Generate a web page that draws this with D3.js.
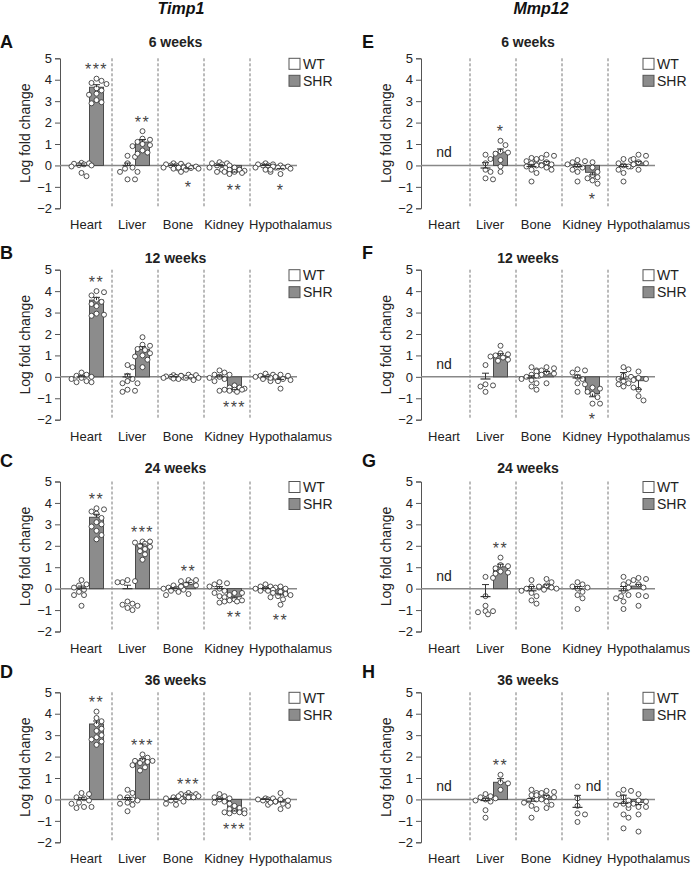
<!DOCTYPE html>
<html><head><meta charset="utf-8">
<script src="https://cdn.jsdelivr.net/npm/d3@7"></script>
<style>body{margin:0;background:#fff}svg{display:block;font-family:"Liberation Sans",Arial,Helvetica,sans-serif}</style>
</head><body><svg id="c" width="691" height="869"></svg>
<script>
const categories = ["Heart","Liver","Bone","Kidney","Hypothalamus"];
const yTicks = [-2,-1,0,1,2,3,4,5];
const groups = ["WT","SHR"];
const genes = ["Timp1","Mmp12"];
const ages = ["6 weeks","12 weeks","24 weeks","36 weeks"];

// Panel A (Timp1, 6 weeks)
const A_wt = [[0.1,0.05,0.0,0.12,-0.05,0.08,0.02,-0.35,-0.5],[0.45,0.4,0.1,-0.1,-0.15,-0.3,-0.3,-0.65,-0.65],[0.1,0.05,0.0,0.0,-0.05,-0.15,-0.15,-0.1,0.08],[0.1,0.15,0.0,0.05,-0.1,-0.2,-0.3,0.1,0.0],[0.1,0.05,0.0,-0.1,-0.2,-0.3,0.05,0.0,-0.1]];
const A_shr = [[4.05,3.95,3.85,3.8,3.6,3.5,3.35,3.3,3.05,2.95,2.9],[1.6,1.25,1.2,1.1,1.0,0.95,0.9,0.7,0.6,0.55],[-0.05,-0.1,-0.15,-0.2,-0.3,-0.1,-0.12,0.0],[-0.1,-0.2,-0.25,-0.3,-0.4,-0.35,-0.2,-0.3],[0.0,-0.05,-0.1,-0.15,-0.2,-0.4,-0.1,-0.05]];
const A_wtMean = [0,0,0,0,0], A_wtSem = [0.07,0.11,0.03,0.05,0.04];
const A_shrMean = [3.65,1.09,-0.12,-0.27,-0.1], A_shrSem = [0.12,0.12,0.03,0.04,0.04];
const A_sig = ["***","**","*","**","*"];

// Panel B (Timp1, 12 weeks)
const B_wt = [[0.2,0.1,0.05,0.0,-0.05,-0.1,-0.2,-0.25,-0.25],[0.55,0.45,0.05,-0.1,-0.2,-0.3,-0.3,-0.65,-0.7,-0.6],[0.05,0.0,-0.05,0.02,-0.03,0.08,0.0,-0.08],[0.3,0.2,0.1,0.0,-0.05,-0.1,-0.2,-0.65,0.1],[0.1,0.05,0.0,-0.05,-0.1,0.15,0.0,-0.2]];
const B_shr = [[4.0,3.95,3.8,3.6,3.5,3.4,3.3,2.95,2.9,2.85],[1.85,1.5,1.45,1.3,1.25,1.1,1.0,0.95,0.8,0.45],[0.05,0.0,-0.05,-0.1,0.08,-0.15,0.1,-0.05],[-0.4,-0.5,-0.55,-0.6,-0.6,-0.65,-0.7,-0.5,-0.6],[0.1,0.0,-0.05,-0.1,-0.15,-0.2,-0.55,0.05]];
const B_wtMean = [0,0,0,0,0], B_wtSem = [0.05,0.13,0.02,0.08,0.03];
const B_shrMean = [3.58,1.28,-0.02,-0.56,-0.07], B_shrSem = [0.13,0.13,0.03,0.04,0.05];
const B_sig = ["**","","","***",""];

// Panel C (Timp1, 24 weeks)
const C_wt = [[0.4,0.2,0.15,0.05,-0.05,-0.15,-0.3,-0.3,-0.8],[0.4,0.35,0.3,0.3,-0.6,-0.7,-0.8,-0.9,-1.0,-0.75],[0.15,0.1,0.05,0.0,-0.05,-0.1,-0.15,-0.3,0.0],[0.3,0.25,0.2,0.1,0.0,-0.1,-0.2,-0.4,-0.65,-0.35],[0.2,0.1,0.05,0.0,-0.05,-0.1,0.1,-0.1,0.0]];
const C_shr = [[3.75,3.7,3.6,3.5,3.3,3.1,3.0,2.9,2.7,2.5,2.3],[2.2,2.2,2.15,2.1,2.0,1.95,1.85,1.75,1.6,1.35],[0.4,0.4,0.35,0.3,0.2,0.15,0.1,-0.25],[-0.2,-0.2,-0.3,-0.4,-0.5,-0.55,-0.55,-0.6,-0.6],[0.1,0.0,-0.15,-0.2,-0.3,-0.35,-0.4,-0.5,-0.75,-0.25]];
const C_wtMean = [0,0,0,0,0], C_wtSem = [0.12,0.16,0.04,0.09,0.04];
const C_shrMean = [3.33,2.0,0.22,-0.38,-0.22], C_shrSem = [0.14,0.08,0.06,0.05,0.07];
const C_sig = ["**","***","**","**","**"];

// Panel D (Timp1, 36 weeks)
const D_wt = [[0.3,0.25,0.1,0.05,-0.05,-0.15,-0.2,-0.35,-0.4,-0.35],[0.45,0.3,0.1,0.0,-0.05,-0.15,-0.2,-0.25,-0.55,0.1],[0.1,0.05,0.0,-0.05,-0.1,-0.2,-0.25,0.05],[0.25,0.15,0.1,0.0,-0.1,-0.15,-0.2,0.05],[0.05,0.05,0.0,-0.05,-0.1,-0.25,0.0]];
const D_shr = [[4.1,3.8,3.65,3.5,3.3,3.2,3.0,2.9,2.8,2.7,2.55],[2.1,1.95,1.85,1.8,1.8,1.75,1.7,1.6,1.5,1.35],[0.3,0.25,0.25,0.2,0.2,0.15,0.15,0.1,0.1],[-0.3,-0.4,-0.45,-0.5,-0.55,-0.6,-0.65,-0.65,-0.6],[0.3,0.0,-0.05,-0.1,-0.15,-0.2,-0.3,-0.45]];
const D_wtMean = [0,0,0,0,0], D_wtSem = [0.08,0.09,0.04,0.05,0.03];
const D_shrMean = [3.52,1.83,0.2,-0.5,-0.06], D_shrSem = [0.14,0.07,0.02,0.04,0.06];
const D_sig = ["**","***","***","***",""];

// Panel E (Mmp12, 6 weeks)
const E_wt = [null,[0.5,0.3,0.1,-0.2,-0.3,-0.6,-0.65],[0.35,0.25,0.1,0.0,-0.05,-0.2,-0.35,-0.75,0.2],[0.25,0.2,0.15,0.05,-0.1,-0.2,-0.3,-0.75,0.0],[0.3,0.25,0.1,-0.05,-0.2,-0.35,-0.75,0.0]];
const E_shr = [null,[1.15,0.95,0.65,0.6,0.55,0.25,-0.05,-0.3],[0.5,0.45,0.3,0.15,0.05,0.0,-0.1,-0.2,0.35],[0.15,-0.1,-0.3,-0.45,-0.55,-0.6,-0.7,-0.85],[0.5,0.45,0.3,0.15,0.05,-0.05,-0.2,0.1]];
const E_wtMean = [null,-0.12,-0.05,-0.05,-0.05], E_wtSem = [null,0.25,0.1,0.1,0.1];
const E_shrMean = [null,0.62,0.12,-0.32,0.12], E_shrSem = [null,0.15,0.07,0.12,0.07];
const E_sig = ["","*","","*",""];
const E_nd = [["Heart","both"]];

// Panel F (Mmp12, 12 weeks)
const F_wt = [null,[0.55,-0.35,-0.4,-0.45,-0.7],[0.45,0.3,0.1,0.0,-0.1,-0.15,-0.3,-0.45,-0.6,0.05],[0.35,0.3,0.2,0.0,-0.1,-0.3,-0.35,-0.7],[0.45,0.35,0.05,-0.1,-0.2,-0.3,-0.35,-0.5,-0.45,0.0]];
const F_shr = [null,[1.45,1.1,1.05,1.0,0.95,0.9,0.8,0.75],[0.45,0.4,0.3,0.25,0.2,0.15,0.1,-0.3,0.05],[-0.5,-0.55,-0.7,-0.8,-0.95,-1.25,-1.25],[0.25,-0.05,-0.1,-0.6,-0.9,-1.1,-0.15]];
const F_wtMean = [null,-0.1,-0.05,-0.05,-0.1], F_wtSem = [null,0.27,0.1,0.13,0.3];
const F_shrMean = [null,1.0,0.17,-0.78,-0.18], F_shrSem = [null,0.08,0.08,0.15,0.4];
const F_sig = ["","","","*",""];
const F_nd = [["Heart","both"]];

// Panel G (Mmp12, 24 weeks)
const G_wt = [null,[0.55,0.5,-0.35,-0.8,-1.05,-1.05,-1.1,-1.2],[0.4,0.1,0.05,0.0,-0.1,-0.2,-0.35,-0.55,-0.7],[0.3,0.2,0.1,0.05,0.0,-0.15,-0.3,-0.45,-0.95],[0.55,0.2,0.05,-0.1,-0.3,-0.45,-0.6,-0.95,-0.35]];
const G_shr = [null,[1.45,1.1,1.05,0.95,0.8,0.75,0.7],[0.45,0.3,0.15,0.1,0.05,0.0,-0.05],null,[0.5,0.45,0.3,0.2,0.05,-0.3,-0.35,-0.8,0.4]];
const G_wtMean = [null,-0.37,-0.1,0.0,-0.1], G_wtSem = [null,0.56,0.2,0.1,0.2];
const G_shrMean = [null,1.02,0.12,null,0.12], G_shrSem = [null,0.12,0.06,null,0.08];
const G_sig = ["","**","","",""];
const G_nd = [["Heart","both"]];

// Panel H (Mmp12, 36 weeks)
const H_wt = [null,[0.25,0.15,0.1,0.05,0.0,-0.05,-0.1,-0.5,-0.85],[0.45,0.3,0.2,0.0,-0.05,-0.15,-0.3,-0.45,-0.85],[0.6,0.05,-0.3,-0.65,-0.7,-1.05],[0.45,0.4,0.25,0.1,-0.05,-0.2,-0.25,-0.4,-0.7,-0.85,-1.35]];
const H_shr = [null,[1.15,0.8,0.75,0.45],[0.4,0.35,0.3,0.2,0.1,0.0,-0.1,-0.25,-0.4,0.15],null,[0.25,-0.05,-0.1,-0.2,-0.25,-0.35,-0.35,-0.7,-1.5]];
const H_wtMean = [null,-0.05,-0.08,-0.37,-0.18], H_wtSem = [null,0.1,0.12,0.56,0.38];
const H_shrMean = [null,0.8,0.12,null,-0.14], H_shrSem = [null,0.17,0.07,null,0.1];
const H_sig = ["","**","","",""];
const H_nd = [["Heart","both"],["Kidney","SHR"]];

const panels = [
 {id:"A",col:0,row:0,wt:A_wt,shr:A_shr,wm:A_wtMean,ws:A_wtSem,sm:A_shrMean,ss:A_shrSem,sig:A_sig,nd:[]},
 {id:"B",col:0,row:1,wt:B_wt,shr:B_shr,wm:B_wtMean,ws:B_wtSem,sm:B_shrMean,ss:B_shrSem,sig:B_sig,nd:[]},
 {id:"C",col:0,row:2,wt:C_wt,shr:C_shr,wm:C_wtMean,ws:C_wtSem,sm:C_shrMean,ss:C_shrSem,sig:C_sig,nd:[]},
 {id:"D",col:0,row:3,wt:D_wt,shr:D_shr,wm:D_wtMean,ws:D_wtSem,sm:D_shrMean,ss:D_shrSem,sig:D_sig,nd:[]},
 {id:"E",col:1,row:0,wt:E_wt,shr:E_shr,wm:E_wtMean,ws:E_wtSem,sm:E_shrMean,ss:E_shrSem,sig:E_sig,nd:E_nd},
 {id:"F",col:1,row:1,wt:F_wt,shr:F_shr,wm:F_wtMean,ws:F_wtSem,sm:F_shrMean,ss:F_shrSem,sig:F_sig,nd:F_nd},
 {id:"G",col:1,row:2,wt:G_wt,shr:G_shr,wm:G_wtMean,ws:G_wtSem,sm:G_shrMean,ss:G_shrSem,sig:G_sig,nd:G_nd},
 {id:"H",col:1,row:3,wt:H_wt,shr:H_shr,wm:H_wtMean,ws:H_wtSem,sm:H_shrMean,ss:H_shrSem,sig:H_sig,nd:H_nd}
];

// ---- layout ----
const axisX = [60, 421];
const bandX0 = [66, 424];
const bandW = 46;
const rowTop = [58.3, 269.7, 481.5, 692.3];
const plotH = 150;
const titleY = [47, 263, 473, 685];
const letterY = [48, 259, 467, 678];
const letterX = [0, 362];
const titleCX = [175.5, 528];
const geneCX = [181, 541];
const legendX = [289, 643];
const R = 2.5;

const svg = d3.select("#c");
svg.append("rect").attr("width",691).attr("height",869).attr("fill","#fff");

genes.forEach((g,i)=>{
  svg.append("text").attr("x",geneCX[i]).attr("y",14).attr("text-anchor","middle")
    .attr("font-size",16).attr("font-weight","bold").attr("font-style","italic").attr("fill","#111").text(g);
});

function swarm(vals, y){
  const placed=[]; const out=[];
  const order = vals.map((v,i)=>({v,i})).sort((a,b)=>b.v-a.v);
  const cands=[0];
  for(let k=1;k<=4;k++){cands.push(k*2.5,-k*2.5);}
  order.forEach(o=>{
    const py=y(o.v);
    let best=null,bestD=-1;
    for(const c of cands){
      let md=Infinity;
      for(const p of placed){md=Math.min(md,Math.hypot(p.x-c,p.y-py));}
      if(md>=2*R+0.3){best=c;bestD=md;break;}
      if(md>bestD){bestD=md;best=c;}
    }
    placed.push({x:best,y:py}); out.push({v:o.v,dx:best});
  });
  return out;
}

panels.forEach(p=>{
  const top=rowTop[p.row], ax=axisX[p.col], b0=bandX0[p.col];
  const y=d3.scaleLinear().domain([-2,5]).range([top+plotH, top]);
  const x=d3.scaleBand().domain(categories).range([b0, b0+bandW*categories.length]).padding(0);
  const gx=d3.scaleBand().domain(groups).range([8,38]);
  const g=svg.append("g");

  g.append("text").attr("x",letterX[p.col]).attr("y",letterY[p.row]).attr("font-size",18).attr("font-weight","bold").attr("fill","#111").text(p.id);
  g.append("text").attr("x",titleCX[p.col]).attr("y",titleY[p.row]).attr("text-anchor","middle").attr("font-size",14).attr("font-weight","bold").attr("fill","#222").text(ages[p.row]);

  const yAxis=d3.axisLeft(y).tickValues(yTicks).tickSize(5).tickPadding(3).tickFormat(d=>d<0?"\u2212"+Math.abs(d):String(d));
  const ga=g.append("g").attr("transform",`translate(${ax},0)`).call(yAxis);
  ga.select(".domain").attr("stroke","#555").attr("stroke-width",1);
  ga.selectAll(".tick line").attr("stroke","#555");
  ga.selectAll(".tick text").attr("font-size",13).attr("fill","#222").attr("font-family","Liberation Sans, Arial, sans-serif");
  g.append("text").attr("transform",`translate(${ax-35},${top+plotH/2}) rotate(-90)`).attr("text-anchor","middle")
   .attr("dy","0.35em").attr("font-size",14).attr("fill","#222").text("Log fold change");

  categories.slice(1).forEach(c=>{
    g.append("line").attr("x1",x(c)).attr("x2",x(c)).attr("y1",y(5)).attr("y2",y(-2))
     .attr("stroke","#777").attr("stroke-width",1).attr("stroke-dasharray","3,2");
  });
  g.append("line").attr("x1",ax).attr("x2",x.range()[1]+1).attr("y1",y(0)).attr("y2",y(0)).attr("stroke","#888").attr("stroke-width",1.5);

  categories.forEach((c,i)=>{
    const last=i===categories.length-1;
    g.append("text").attr("x", last? x(c)-1 : x(c)+x.bandwidth()/2-3).attr("y",y(-2)+21)
     .attr("text-anchor", last?"start":"middle").attr("font-size",13).attr("fill","#222").text(c);
  });

  groups.forEach((gr,i)=>{
    const ly=top+i*17;
    g.append("rect").attr("x",legendX[p.col]).attr("y",ly).attr("width",11).attr("height",11)
     .attr("fill",gr==="WT"?"#fff":"#8c8c8c").attr("stroke","#555").attr("stroke-width",1);
    g.append("text").attr("x",legendX[p.col]+14).attr("y",ly+10.5).attr("font-size",14).attr("fill","#222").text(gr);
  });

  categories.forEach((c,i)=>{
    const wxc=x(c)+gx("WT")+gx.bandwidth()/2;
    const sxc=x(c)+gx("SHR")+gx.bandwidth()/2;
    if(p.shr[i]){
      const m=p.sm[i];
      g.append("rect").attr("x",sxc-7).attr("width",14).attr("y",Math.min(y(m),y(0))).attr("height",Math.abs(y(m)-y(0)))
       .attr("fill","#8c8c8c").attr("stroke","#4a4a4a").attr("stroke-width",1);
    }
    [[p.wt[i],wxc],[p.shr[i],sxc]].forEach(([vals,cx])=>{
      if(!vals) return;
      swarm(vals,y).forEach(d=>{
        g.append("circle").attr("cx",cx+d.dx).attr("cy",y(d.v)).attr("r",R)
         .attr("fill","#fff").attr("stroke","#333").attr("stroke-width",0.85);
      });
    });
    if(p.wt[i]){
      const m=p.wm[i], s=p.ws[i];
      g.append("line").attr("x1",wxc-5).attr("x2",wxc+5).attr("y1",y(m)).attr("y2",y(m)).attr("stroke","#333").attr("stroke-width",1.2);
      g.append("line").attr("x1",wxc).attr("x2",wxc).attr("y1",y(m)).attr("y2",y(m+s)).attr("stroke","#333").attr("stroke-width",1);
      g.append("line").attr("x1",wxc-3.5).attr("x2",wxc+3.5).attr("y1",y(m+s)).attr("y2",y(m+s)).attr("stroke","#333").attr("stroke-width",1);
    }
    if(p.shr[i]){
      const m=p.sm[i], s=p.ss[i], e=m>=0?m+s:m-s;
      g.append("line").attr("x1",sxc).attr("x2",sxc).attr("y1",y(m)).attr("y2",y(e)).attr("stroke","#333").attr("stroke-width",1);
      g.append("line").attr("x1",sxc-3.5).attr("x2",sxc+3.5).attr("y1",y(e)).attr("y2",y(e)).attr("stroke","#333").attr("stroke-width",1);
      if(p.sig[i]){
        const up=m>=0;
        const ext=up?d3.max(p.shr[i]):d3.min(p.shr[i]);
        const cy=up?y(ext)-12.5:y(ext)+12.5;
        g.append("text").attr("x",sxc).attr("y",cy+9).attr("text-anchor","middle").attr("font-size",16)
         .attr("letter-spacing","1.5px").attr("fill","#444").text(p.sig[i]);
      }
    }
  });
  p.nd.forEach(([c,grp])=>{
    const cx = grp==="both" ? x(c)+x.bandwidth()/2-3 : x(c)+gx("SHR")+gx.bandwidth()/2+1;
    g.append("text").attr("x",cx).attr("y",y(0)-8).attr("text-anchor","middle").attr("font-size",14).attr("fill","#222").text("nd");
  });
});
</script></body></html>
